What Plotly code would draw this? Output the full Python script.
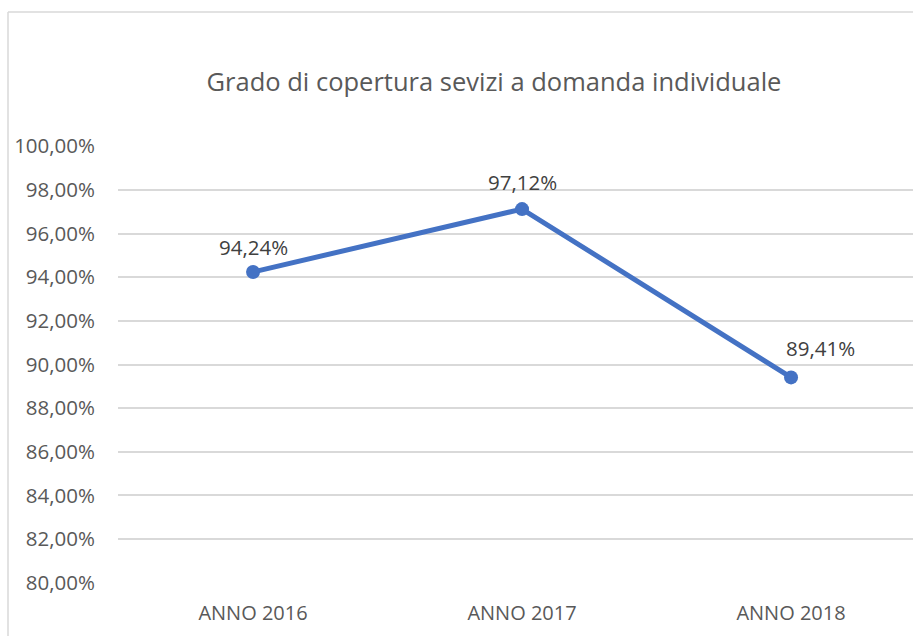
import plotly.graph_objects as go

# dati del grafico
anni = ["ANNO 2016", "ANNO 2017", "ANNO 2018"]
copertura = [0.9424, 0.9712, 0.8941]
titolo = "Grado di copertura sevizi a domanda individuale"

W, H = 913, 636
L, R, T, B = 118, 0, 146, 53
plot_w = W - L - R

fig = go.Figure()
fig.add_trace(
    go.Scatter(
        x=[0, 1, 2],
        y=copertura,
        mode="lines+markers",
        line=dict(color="#4472C4", width=5),
        marker=dict(color="#4472C4", size=14),
        showlegend=False,
        cliponaxis=False,
    )
)

# etichette dati (sopra il punto, l'ultima spostata a destra come in Excel)
etichette_anchor = ["center", "center", "left"]
etichette_xshift = [0, 0, -7]
etichette_yshift = [25, 27, 29]
for i, v in enumerate(copertura):
    fig.add_annotation(
        x=i, y=v,
        text=f"{v * 100:.2f}%".replace(".", ","),
        showarrow=False,
        xanchor=etichette_anchor[i],
        yanchor="middle",
        xshift=etichette_xshift[i],
        yshift=etichette_yshift[i],
        font=dict(family="Open Sans", size=20.5, color="#404040"),
    )

# bordo del grafico (come in Excel)
bx0 = (8 - L) / plot_w
by1 = 1 + (T - 12) / (H - T - B)
fig.add_shape(type="line", xref="paper", yref="paper", x0=bx0, x1=bx0, y0=-1, y1=by1,
              line=dict(color="#d9d9d9", width=1.5))
fig.add_shape(type="line", xref="paper", yref="paper", x0=bx0, x1=2, y0=by1, y1=by1,
              line=dict(color="#d9d9d9", width=1.5))

fig.update_layout(
    width=W,
    height=H,
    margin=dict(l=L, r=R, t=T, b=B),
    paper_bgcolor="white",
    plot_bgcolor="white",
    separators=",.",
    font=dict(family="Open Sans", color="#595959"),
    title=dict(
        text=titolo,
        x=494 / W,
        xanchor="center",
        y=1 - 82 / H,
        yanchor="middle",
        font=dict(family="Open Sans", size=25.5, color="#595959"),
    ),
)
fig.update_xaxes(
    range=[-0.502, -0.502 + plot_w / 269],
    tickvals=[0, 1, 2],
    ticktext=anni,
    showgrid=False,
    showline=False,
    zeroline=False,
    ticks="",
    ticklabelstandoff=16,
    tickfont=dict(size=20, color="#595959"),
)
fig.update_yaxes(
    range=[0.7999, 1.0001],
    dtick=0.02,
    tick0=0.8,
    tickformat=".2%",
    showgrid=True,
    gridcolor="#d9d9d9",
    gridwidth=1.5,
    zeroline=False,
    showline=False,
    ticks="",
    ticklabelstandoff=22,
    tickfont=dict(size=20.5, color="#595959"),
)

fig.write_html("out.html", config={"displayModeBar": False},
               post_script="document.body.style.margin='0';")
